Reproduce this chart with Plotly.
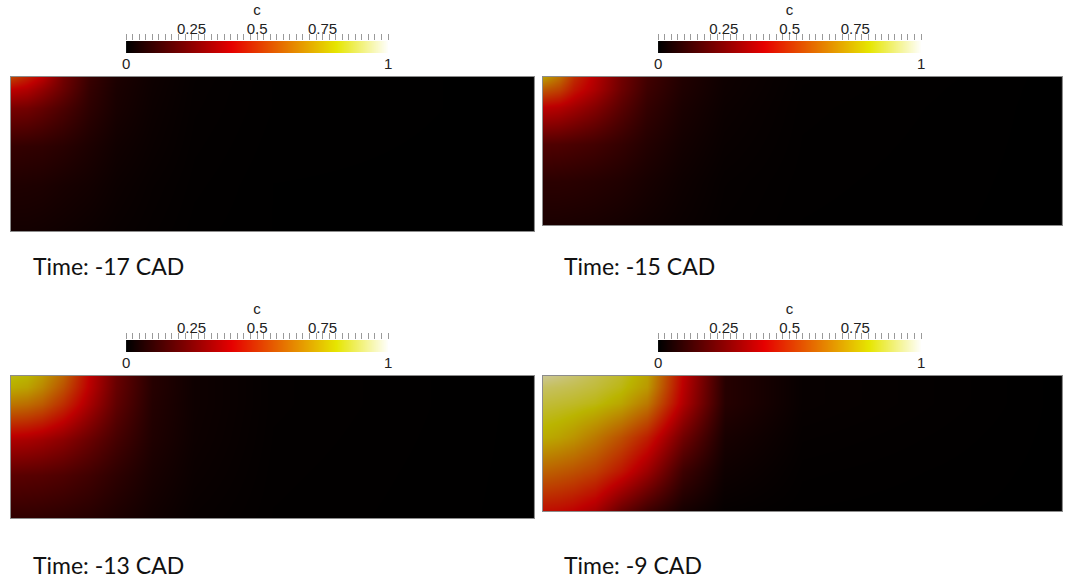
import plotly.graph_objects as go

W, H = 1066, 579

# ---- data: progress variable c on coarse spatial grid (x: % of width, y: fraction of height from top)
x_nodes = [0, 3, 6, 10, 15, 20, 27, 35, 50, 100]
y_nodes = [0, 0.08, 0.2, 0.45, 0.7, 1.0]

c_m17 = [
    [0.55, 0.47, 0.39, 0.24, 0.12, 0.06, 0.03, 0.012, 0.003, 0],
    [0.40, 0.37, 0.31, 0.22, 0.11, 0.055, 0.028, 0.011, 0.003, 0],
    [0.25, 0.24, 0.21, 0.16, 0.095, 0.05, 0.025, 0.01, 0.003, 0],
    [0.11, 0.105, 0.10, 0.085, 0.06, 0.035, 0.02, 0.008, 0.002, 0],
    [0.065, 0.063, 0.06, 0.05, 0.04, 0.025, 0.014, 0.006, 0.001, 0],
    [0.04, 0.04, 0.037, 0.032, 0.025, 0.017, 0.01, 0.004, 0.001, 0],
]
c_m15 = [
    [0.75, 0.65, 0.50, 0.38, 0.24, 0.14, 0.07, 0.03, 0.008, 0],
    [0.60, 0.55, 0.45, 0.36, 0.23, 0.13, 0.065, 0.028, 0.007, 0],
    [0.40, 0.38, 0.34, 0.28, 0.19, 0.11, 0.055, 0.024, 0.006, 0],
    [0.17, 0.165, 0.155, 0.14, 0.11, 0.075, 0.04, 0.018, 0.005, 0],
    [0.09, 0.09, 0.087, 0.08, 0.068, 0.05, 0.028, 0.012, 0.004, 0],
    [0.055, 0.055, 0.053, 0.05, 0.042, 0.032, 0.02, 0.009, 0.003, 0],
]
c_m13 = [
    [0.82, 0.80, 0.74, 0.62, 0.40, 0.22, 0.08, 0.03, 0.008, 0],
    [0.78, 0.76, 0.70, 0.58, 0.39, 0.215, 0.08, 0.03, 0.008, 0],
    [0.66, 0.64, 0.60, 0.50, 0.35, 0.20, 0.075, 0.03, 0.008, 0],
    [0.36, 0.35, 0.33, 0.29, 0.22, 0.145, 0.065, 0.027, 0.007, 0],
    [0.19, 0.185, 0.18, 0.165, 0.135, 0.095, 0.05, 0.022, 0.006, 0],
    [0.10, 0.10, 0.097, 0.09, 0.078, 0.058, 0.034, 0.015, 0.005, 0],
]
c_m9 = [
    [0.95, 0.93, 0.91, 0.88, 0.84, 0.76, 0.40, 0.08, 0.015, 0],
    [0.90, 0.89, 0.88, 0.86, 0.82, 0.74, 0.39, 0.08, 0.015, 0],
    [0.86, 0.85, 0.84, 0.82, 0.77, 0.67, 0.37, 0.08, 0.015, 0],
    [0.78, 0.76, 0.73, 0.67, 0.58, 0.47, 0.24, 0.05, 0.01, 0],
    [0.62, 0.60, 0.58, 0.54, 0.45, 0.33, 0.13, 0.03, 0.006, 0],
    [0.43, 0.42, 0.40, 0.35, 0.22, 0.13, 0.045, 0.01, 0.003, 0],
]

time_labels = ["Time: -17 CAD", "Time: -15 CAD", "Time: -13 CAD", "Time: -9 CAD"]
cb_values = [0, 1]
cb_major_ticks = [0.25, 0.5, 0.75]
cb_end_ticks = [0, 1]
cb_title = "c"

# ---- styles
bright_scale = [[0.0, "rgb(0,0,0)"], [0.4, "rgb(230,0,0)"], [0.8, "rgb(230,230,0)"], [1.0, "rgb(255,255,255)"]]
shaded_scale = [[0.0, "rgb(0,0,0)"], [0.4, "rgb(190,0,0)"], [0.8, "rgb(186,180,0)"], [1.0, "rgb(210,205,195)"]]

# pixel boxes: (left, right, top, bottom)
panel_px = [(7, 534, 77, 231), (543, 1066, 77, 225), (7, 534, 376, 518), (543, 1066, 376, 511)]
cbar_px = [(123, 387, 41, 53), (659, 924, 41, 53), (123, 387, 340, 352), (659, 924, 340, 352)]
label_px = [(27, 266), (562, 266), (27, 565), (562, 565)]

def xd(l, r):
    return [l / W, r / W]

def yd(t, b):
    return [1 - b / H, 1 - t / H]

fig = go.Figure()
layout = dict(
    width=W, height=H, margin=dict(l=0, r=0, t=0, b=0),
    paper_bgcolor="white", plot_bgcolor="white", showlegend=False,
)
fields = [c_m17, c_m15, c_m13, c_m9]
annotations = []
font_cb = dict(family="Liberation Sans, Arial, sans-serif", size=15, color="#222")

for i, (z, box, cb, lab, txt) in enumerate(zip(fields, panel_px, cbar_px, label_px, time_labels)):
    n = i + 1
    fig.add_trace(go.Heatmap(
        x=x_nodes, y=y_nodes, z=z, zmin=0, zmax=1, zsmooth="best",
        colorscale=shaded_scale, showscale=False,
        xaxis=f"x{n}", yaxis=f"y{n}", hoverinfo="skip",
    ))
    layout[f"xaxis{n}"] = dict(domain=xd(box[0], box[1]), range=[0, 100], anchor=f"y{n}",
                               showgrid=False, zeroline=False, showticklabels=False, ticks="",
                               showline=True, mirror=True, linecolor="#8c8c8c", linewidth=1)
    layout[f"yaxis{n}"] = dict(domain=yd(box[2], box[3]), range=[1, 0], anchor=f"x{n}",
                               showgrid=False, zeroline=False, showticklabels=False, ticks="",
                               showline=True, mirror=True, linecolor="#8c8c8c", linewidth=1)

    # colour bar as heatmap on its own axes
    cbn = n + 4
    top = n + 8
    fig.add_trace(go.Heatmap(
        x=cb_values, y=[0], z=[cb_values], zmin=0, zmax=1, zsmooth="best",
        colorscale=bright_scale, showscale=False,
        xaxis=f"x{cbn}", yaxis=f"y{cbn}", hoverinfo="skip",
    ))
    layout[f"xaxis{cbn}"] = dict(domain=xd(cb[0], cb[1]), range=[0, 1], anchor=f"y{cbn}",
                                 side="bottom", tickvals=cb_end_ticks, ticktext=[str(v) for v in cb_end_ticks],
                                 ticks="", showgrid=False, zeroline=False, showline=False,
                                 tickfont=font_cb)
    layout[f"yaxis{cbn}"] = dict(domain=yd(cb[2], cb[3]), range=[-0.5, 0.5], anchor=f"x{cbn}",
                                 showgrid=False, zeroline=False, showticklabels=False, ticks="", showline=False)
    layout[f"xaxis{top}"] = dict(overlaying=f"x{cbn}", anchor=f"y{cbn}", side="top", range=[0, 1],
                                 tickvals=cb_major_ticks, ticktext=[f"{v:g}" for v in cb_major_ticks],
                                 ticks="outside", ticklen=8, tickcolor="#9a9a9a", tickwidth=1,
                                 minor=dict(ticks="outside", dtick=0.025, tick0=0, ticklen=6,
                                            tickcolor="#9a9a9a", tickwidth=1, showgrid=False),
                                 showgrid=False, zeroline=False, showline=False,
                                 tickfont=font_cb, ticklabelstandoff=-8,
                                 title=dict(text=cb_title, font=font_cb, standoff=0))
    fig.add_trace(go.Scatter(x=[0, 1], y=[0, 0], mode="markers", marker=dict(opacity=0),
                             xaxis=f"x{top}", yaxis=f"y{cbn}", hoverinfo="skip"))

    annotations.append(dict(text=txt, x=lab[0] / W, y=1 - lab[1] / H, xref="paper", yref="paper",
                            xanchor="left", yanchor="middle", showarrow=False,
                            font=dict(family="Lato, sans-serif", size=23, color="#111")))

layout["annotations"] = annotations
fig.update_layout(**layout)
fig.write_html("out.html")
